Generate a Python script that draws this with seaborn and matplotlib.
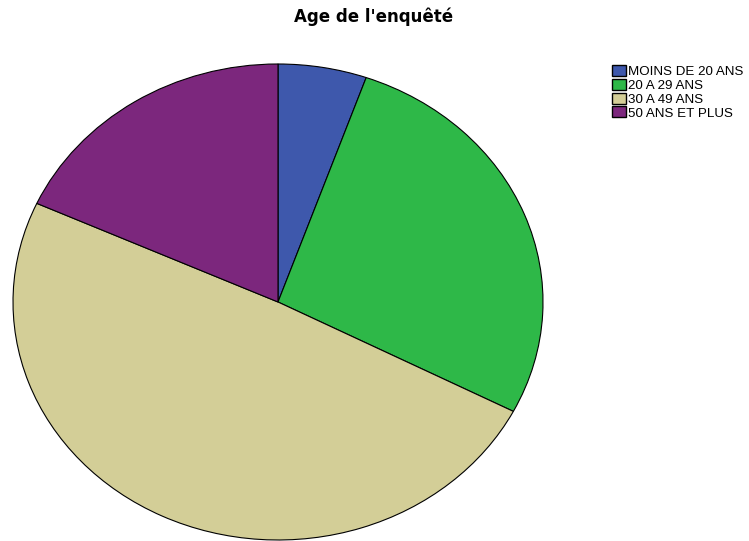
import matplotlib
matplotlib.use("Agg")
import matplotlib.pyplot as plt
import seaborn as sns

# Data (percent)
categories = ["MOINS DE 20 ANS", "20 A 29 ANS", "30 A 49 ANS", "50 ANS ET PLUS"]
values = [5.4, 27.2, 49.2, 18.2]
colors = ["#3e58ac", "#2eb848", "#d3ce97", "#7c277d"]

sns.set_theme(style="white")
plt.rcParams['font.family'] = ['Liberation Sans', 'DejaVu Sans']
plt.rcParams['text.color'] = 'black'
palette = sns.color_palette(colors)

fig = plt.figure(figsize=(7.49, 5.41), dpi=100)
W, H = 749, 541
# elliptical pie: axes box spans the ellipse in pixels
ax = fig.add_axes([13 / W, 1 / H, 530 / W, 476 / H])
wedges, _ = ax.pie(values, colors=palette, startangle=90, counterclock=False,
                   radius=1, wedgeprops=dict(edgecolor="black", linewidth=0.8))
ax.set_aspect("auto")
ax.set_xlim(-1.0, 1.0)
ax.set_ylim(-1.0, 1.0)
ax.axis("off")

fig.text(374 / W, 1 - 17 / H, "Age de l'enquêté", ha="center", va="center",
         fontsize=12, fontweight="bold", family="DejaVu Sans", color="black")

leg = fig.legend(wedges, categories, loc="upper left",
                 bbox_to_anchor=(612 / W, 1 - 65 / H), frameon=False,
                 fontsize=9.6, handlelength=1.05, handleheight=0.9,
                 handletextpad=0.15, labelspacing=0.05, borderpad=0,
                 borderaxespad=0, labelcolor="black")
for h in leg.legend_handles:
    h.set_linewidth(1.0)

fig.savefig("out.png", dpi=100)
